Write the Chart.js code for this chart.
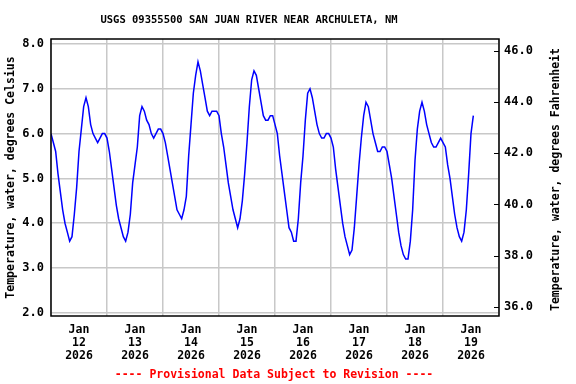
<!DOCTYPE html>
<html>
<head>
<meta charset="utf-8">
<script src="https://cdn.jsdelivr.net/npm/chart.js@4.4.1/dist/chart.umd.min.js"></script>
<style>
  html, body { margin: 0; padding: 0; background: #fff; }
  #wrap { width: 576px; height: 384px; }
</style>
</head>
<body>
<div id="wrap"><canvas id="chart" width="576" height="384"></canvas></div>
<script>
// water temperature in deg C, one reading per hour, each list starts at 00:00
var jan12 = [6.0, 5.8, 5.6, 5.1, 4.7, 4.3, 4.0, 3.8, 3.6, 3.7, 4.2, 4.8, 5.6, 6.1, 6.6, 6.8, 6.6, 6.2, 6.0, 5.9, 5.8, 5.9, 6.0, 6.0];
var jan13 = [5.9, 5.6, 5.2, 4.8, 4.4, 4.1, 3.9, 3.7, 3.6, 3.8, 4.2, 4.9, 5.3, 5.7, 6.4, 6.6, 6.5, 6.3, 6.2, 6.0, 5.9, 6.0, 6.1, 6.1];
var jan14 = [6.0, 5.8, 5.5, 5.2, 4.9, 4.6, 4.3, 4.2, 4.1, 4.3, 4.6, 5.5, 6.2, 6.9, 7.3, 7.6, 7.4, 7.1, 6.8, 6.5, 6.4, 6.5, 6.5, 6.5];
var jan15 = [6.4, 6.0, 5.7, 5.3, 4.9, 4.6, 4.3, 4.1, 3.9, 4.1, 4.5, 5.1, 5.8, 6.6, 7.2, 7.4, 7.3, 7.0, 6.7, 6.4, 6.3, 6.3, 6.4, 6.4];
var jan16 = [6.2, 6.0, 5.5, 5.1, 4.7, 4.3, 3.9, 3.8, 3.6, 3.6, 4.1, 4.9, 5.5, 6.3, 6.9, 7.0, 6.8, 6.5, 6.2, 6.0, 5.9, 5.9, 6.0, 6.0];
var jan17 = [5.9, 5.7, 5.2, 4.8, 4.4, 4.0, 3.7, 3.5, 3.3, 3.4, 3.9, 4.6, 5.3, 5.9, 6.4, 6.7, 6.6, 6.3, 6.0, 5.8, 5.6, 5.6, 5.7, 5.7];
var jan18 = [5.6, 5.3, 5.0, 4.6, 4.2, 3.8, 3.5, 3.3, 3.2, 3.2, 3.6, 4.3, 5.4, 6.1, 6.5, 6.7, 6.5, 6.2, 6.0, 5.8, 5.7, 5.7, 5.8, 5.9];
var jan19 = [5.8, 5.7, 5.3, 5.0, 4.6, 4.2, 3.9, 3.7, 3.6, 3.8, 4.3, 5.1, 6.0, 6.4];

var days = ["12", "13", "14", "15", "16", "17", "18", "19"];
var celsiusTicks = [2, 3, 4, 5, 6, 7, 8];
var fahrenheitTicks = [36, 38, 40, 42, 44, 46];

var title = "USGS 09355500 SAN JUAN RIVER NEAR ARCHULETA, NM";
var footer = "---- Provisional Data Subject to Revision ----";
var rightTitle = "Temperature, water, degrees Fahrenheit";

var temps = [].concat(jan12, jan13, jan14, jan15, jan16, jan17, jan18, jan19);
var points = temps.map(function(t, i) { return { x: i, y: t }; });

var mono = "'DejaVu Sans Mono', monospace";
Chart.defaults.font.family = mono;
Chart.defaults.font.weight = "bold";
Chart.defaults.color = "#000";

// frame, inward ticks on the right axis, title, right axis title and footer
var extras = {
    id: "extras",
    afterDraw: function(chart) {
        var ctx = chart.ctx;
        var a = chart.chartArea;
        ctx.save();
        ctx.strokeStyle = "#000";
        ctx.lineWidth = 1.5;
        ctx.strokeRect(a.left, a.top, a.right - a.left, a.bottom - a.top);

        var y2 = chart.scales.y2;
        ctx.lineWidth = 1;
        y2.ticks.forEach(function(t) {
            var y = Math.round(y2.getPixelForValue(t.value)) + 0.5;
            ctx.beginPath();
            ctx.moveTo(a.right - 5, y);
            ctx.lineTo(a.right, y);
            ctx.stroke();
        });

        ctx.textAlign = "center";
        ctx.textBaseline = "middle";
        ctx.fillStyle = "#000";
        ctx.font = "bold 10.5px " + mono;
        ctx.fillText(title, 249, 20);

        ctx.save();
        ctx.translate(556, (a.top + a.bottom) / 2 + 2);
        ctx.rotate(-Math.PI / 2);
        ctx.font = "bold 11.5px " + mono;
        ctx.fillText(rightTitle, 0, 0);
        ctx.restore();

        ctx.fillStyle = "#ff0000";
        ctx.font = "bold 11.5px " + mono;
        ctx.fillText(footer, 274, 375);
        ctx.restore();
    }
};

var ctx = document.getElementById("chart").getContext("2d");
var chart = new Chart(ctx, {
    type: "line",
    data: {
        datasets: [{
            data: points,
            borderColor: "#0000ff",
            borderWidth: 1.5,
            pointRadius: 0,
            tension: 0,
            fill: false,
            yAxisID: "y"
        }]
    },
    options: {
        responsive: false,
        animation: false,
        layout: { padding: { top: 39, left: 0, right: 0, bottom: 0 } },
        plugins: {
            legend: { display: false },
            tooltip: { enabled: false }
        },
        scales: {
            x: {
                type: "linear",
                min: 0,
                max: 192,
                afterBuildTicks: function(scale) {
                    var t = [];
                    for (var h = 0; h <= 192; h += 12) t.push({ value: h });
                    scale.ticks = t;
                },
                afterFit: function(scale) { scale.height = 68; },
                border: { display: false },
                grid: {
                    drawTicks: false,
                    color: function(c) {
                        return c.tick && c.tick.value % 24 === 0 ? "#c8c8c8" : "rgba(0,0,0,0)";
                    },
                    lineWidth: 1.5
                },
                ticks: {
                    autoSkip: false,
                    maxRotation: 0,
                    padding: 8,
                    font: { size: 11.5, lineHeight: "13px" },
                    callback: function(v) {
                        if (v % 24 === 12) return ["Jan", days[(v - 12) / 24], "2026"];
                        return "";
                    }
                }
            },
            y: {
                position: "left",
                min: 1.93,
                max: 8.11,
                afterBuildTicks: function(scale) {
                    scale.ticks = celsiusTicks.map(function(v) { return { value: v }; });
                },
                afterFit: function(scale) { scale.width = 51; },
                border: { display: false },
                grid: { drawTicks: false, color: "#c8c8c8", lineWidth: 1.5 },
                ticks: {
                    padding: 7,
                    font: { size: 12 },
                    callback: function(v) { return v.toFixed(1); }
                },
                title: {
                    display: true,
                    text: "Temperature, water, degrees Celsius",
                    font: { size: 11.5 },
                    padding: { top: 4, bottom: 0 }
                }
            },
            y2: {
                position: "right",
                min: 35.64,
                max: 46.46,
                afterBuildTicks: function(scale) {
                    scale.ticks = fahrenheitTicks.map(function(v) { return { value: v }; });
                },
                afterFit: function(scale) { scale.width = 77; },
                border: { display: false },
                grid: { drawTicks: false, drawOnChartArea: false },
                ticks: {
                    padding: 5,
                    font: { size: 12 },
                    callback: function(v) { return v.toFixed(1); }
                }
            }
        }
    },
    plugins: [extras]
});
</script>
</body>
</html>
